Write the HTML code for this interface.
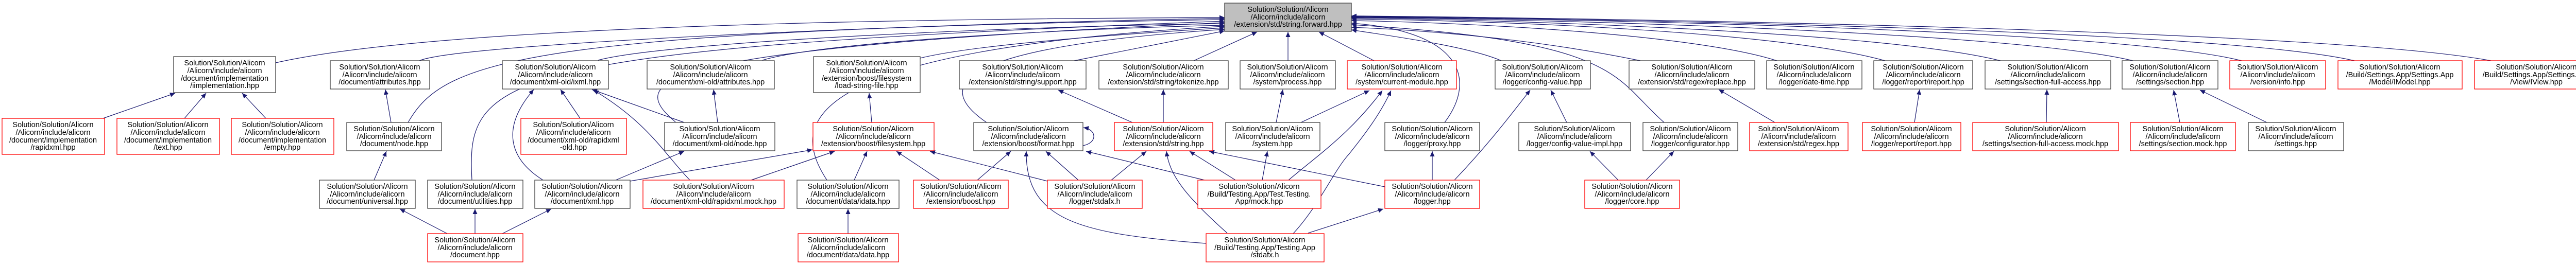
<!DOCTYPE html>
<html><head><meta charset="utf-8"><style>
html,body{margin:0;padding:0;background:#fff;}
svg{display:block;}
text{font-family:"Liberation Sans",sans-serif;font-size:14.5px;fill:#000;text-anchor:middle;}
.b{fill:#fff;stroke:#404040;stroke-width:1.3;}
.r{fill:#fff;stroke:#ff0000;stroke-width:1.3;}
.g{fill:#bfbfbf;stroke:#404040;stroke-width:1.3;}
path.e{fill:none;stroke:#191970;stroke-width:1.2;marker-end:url(#a);}
</style></head><body>
<svg width="5045" height="515" viewBox="0 0 5045 515" xmlns="http://www.w3.org/2000/svg">
<defs><marker id="a" markerWidth="11" markerHeight="9" refX="10" refY="4.5" orient="auto" markerUnits="userSpaceOnUse"><path d="M0,0 L10,4.5 L0,9 z" fill="#191970"/></marker></defs>

<!-- edges to root (left side) -->
<path class="e" d="M535,122 C900,40 2000,36 2377,34"/>
<path class="e" d="M814,118 C900,80 2000,40 2377,36"/>
<path class="e" d="M792,238 C860,120 1000,60 2377,38"/>
<path class="e" d="M916,350 C905,150 950,95 2377,41"/>
<path class="e" d="M1311,237 C1220,160 1230,95 2377,44"/>
<path class="e" d="M1161,117 C1300,80 2000,50 2377,46"/>
<path class="e" d="M1480,117 C1600,80 2100,55 2377,49"/>
<path class="e" d="M1605,350 C1540,250 1520,100 2377,51"/>
<path class="e" d="M1786,113 C1900,85 2200,65 2377,54"/>
<path class="e" d="M1915,238 C1830,180 1800,95 2377,57"/>
<path class="e" d="M2085,118 L2377,60"/>
<path class="e" d="M2317,118 L2440,62"/>
<path class="e" d="M2500,118 L2500,62"/>
<path class="e" d="M2667,118 L2560,62"/>
<!-- edges to root (right side) -->
<path class="e" d="M2804,238 C2870,150 2830,60 2623,45"/>
<path class="e" d="M2914,118 C2850,90 2700,70 2623,58"/>
<path class="e" d="M3230,238 C3130,150 3150,80 2623,48"/>
<path class="e" d="M3184,118 C3000,80 2800,60 2623,53"/>
<path class="e" d="M3449,118 C3300,70 2900,45 2623,40"/>
<path class="e" d="M3659,118 C3450,60 2900,40 2623,37"/>
<path class="e" d="M3883,118 C3650,60 2900,38 2623,35"/>
<path class="e" d="M4140,118 C3900,60 2950,36 2623,34"/>
<path class="e" d="M4351,118 C4100,55 3000,36 2623,33"/>
<path class="e" d="M4570,118 C4300,55 3000,35 2623,32"/>
<path class="e" d="M4835,118 C4500,55 3000,34 2623,31"/>

<!-- inner edges -->
<path class="e" d="M200,230 L340,181"/>
<path class="e" d="M358,230 L400,181"/>
<path class="e" d="M516,230 L470,181"/>
<path class="e" d="M759,238 L748,174"/>
<path class="e" d="M726,350 L750,294"/>
<path class="e" d="M868,454 L776,406"/>
<path class="e" d="M922,454 L922,406"/>
<path class="e" d="M975,454 L1070,406"/>
<path class="e" d="M1054,350 C990,310 970,250 1036,174"/>
<path class="e" d="M1195,350 L1328,294"/>
<path class="e" d="M1223,352 L1577,291"/>
<path class="e" d="M1126,230 L1088,174"/>
<path class="e" d="M1328,238 L1149,174"/>
<path class="e" d="M1393,238 L1385,174"/>
<path class="e" d="M1339,350 C1290,300 1260,240 1152,175"/>
<path class="e" d="M1458,350 L1620,294"/>
<path class="e" d="M1658,350 L1683,294"/>
<path class="e" d="M1646,454 L1646,406"/>
<path class="e" d="M1692,238 L1687,181"/>
<path class="e" d="M1824,350 L1740,294"/>
<path class="e" d="M1897,350 L1962,294"/>
<path class="e" d="M2033,352 L1805,294"/>
<path class="e" d="M2093,350 L2030,294"/>
<path class="e" d="M2157,350 L2225,294"/>
<path class="e" d="M2341,473 C2100,455 1990,430 1992,294"/>
<path class="e" d="M2382,453 C2300,380 2270,340 2264,294"/>
<path class="e" d="M2510,454 C2560,400 2590,330 2618,300 C2650,260 2680,220 2700,176"/>
<path class="e" d="M2539,453 L2685,406"/>
<path class="e" d="M2338,350 L2108,294"/>
<path class="e" d="M2398,350 L2309,294"/>
<path class="e" d="M2450,350 L2460,294"/>
<path class="e" d="M2501,350 C2560,300 2620,260 2683,176"/>
<path class="e" d="M2688,363 L2347,294"/>
<path class="e" d="M2525,238 L2658,176"/>
<path class="e" d="M2477,238 L2490,174"/>
<path class="e" d="M2198,238 L2054,175"/>
<path class="e" d="M2258,238 L2258,174"/>
<path class="e" d="M2102,283 C2130,278 2130,252 2103,248"/>
<path class="e" d="M2780,350 L2780,294"/>
<path class="e" d="M2823,350 C2880,290 2920,240 2970,175"/>
<path class="e" d="M3041,238 L3010,175"/>
<path class="e" d="M3141,350 L3086,294"/>
<path class="e" d="M3195,350 L3249,294"/>
<path class="e" d="M3445,238 L3336,174"/>
<path class="e" d="M3716,238 L3726,174"/>
<path class="e" d="M3972,238 L3973,174"/>
<path class="e" d="M4231,238 L4219,175"/>
<path class="e" d="M4400,238 L4270,175"/>

<!-- nodes -->
<rect class="g" x="2377" y="6" width="246" height="55"/><text x="2500" y="23">Solution/Solution/Alicorn</text><text x="2500" y="38">/Alicorn/include/alicorn</text><text x="2500" y="52">/extension/std/string.forward.hpp</text>

<rect class="b" x="337" y="110" width="198" height="70"/><text x="436" y="127">Solution/Solution/Alicorn</text><text x="436" y="142">/Alicorn/include/alicorn</text><text x="436" y="157">/document/implementation</text><text x="436" y="171">/iimplementation.hpp</text>
<rect class="b" x="641" y="118" width="193" height="55"/><text x="737" y="135">Solution/Solution/Alicorn</text><text x="737" y="150">/Alicorn/include/alicorn</text><text x="737" y="164">/document/attributes.hpp</text>
<rect class="r" x="4" y="230" width="199" height="70"/><text x="103" y="247">Solution/Solution/Alicorn</text><text x="103" y="262">/Alicorn/include/alicorn</text><text x="103" y="277">/document/implementation</text><text x="103" y="291">/rapidxml.hpp</text>
<rect class="r" x="227" y="230" width="199" height="70"/><text x="326" y="247">Solution/Solution/Alicorn</text><text x="326" y="262">/Alicorn/include/alicorn</text><text x="326" y="277">/document/implementation</text><text x="326" y="291">/text.hpp</text>
<rect class="r" x="449" y="230" width="199" height="70"/><text x="548" y="247">Solution/Solution/Alicorn</text><text x="548" y="262">/Alicorn/include/alicorn</text><text x="548" y="277">/document/implementation</text><text x="548" y="291">/empty.hpp</text>
<rect class="b" x="673" y="238" width="184" height="55"/><text x="765" y="255">Solution/Solution/Alicorn</text><text x="765" y="270">/Alicorn/include/alicorn</text><text x="765" y="284">/document/node.hpp</text>
<rect class="b" x="620" y="350" width="186" height="55"/><text x="713" y="367">Solution/Solution/Alicorn</text><text x="713" y="382">/Alicorn/include/alicorn</text><text x="713" y="396">/document/universal.hpp</text>
<rect class="b" x="830" y="350" width="185" height="55"/><text x="922" y="367">Solution/Solution/Alicorn</text><text x="922" y="382">/Alicorn/include/alicorn</text><text x="922" y="396">/document/utilities.hpp</text>
<rect class="r" x="830" y="454" width="185" height="55"/><text x="922" y="471">Solution/Solution/Alicorn</text><text x="922" y="486">/Alicorn/include/alicorn</text><text x="922" y="500">/document.hpp</text>

<rect class="b" x="975" y="118" width="206" height="55"/><text x="1078" y="135">Solution/Solution/Alicorn</text><text x="1078" y="150">/Alicorn/include/alicorn</text><text x="1078" y="164">/document/xml-old/ixml.hpp</text>
<rect class="b" x="1256" y="118" width="247" height="55"/><text x="1379" y="135">Solution/Solution/Alicorn</text><text x="1379" y="150">/Alicorn/include/alicorn</text><text x="1379" y="164">/document/xml-old/attributes.hpp</text>
<rect class="b" x="1579" y="110" width="207" height="70"/><text x="1682" y="127">Solution/Solution/Alicorn</text><text x="1682" y="142">/Alicorn/include/alicorn</text><text x="1682" y="157">/extension/boost/filesystem</text><text x="1682" y="171">/load-string-file.hpp</text>
<rect class="r" x="1011" y="230" width="205" height="70"/><text x="1113" y="247">Solution/Solution/Alicorn</text><text x="1113" y="262">/Alicorn/include/alicorn</text><text x="1113" y="277">/document/xml-old/rapidxml</text><text x="1113" y="291">-old.hpp</text>
<rect class="b" x="1290" y="238" width="214" height="55"/><text x="1397" y="255">Solution/Solution/Alicorn</text><text x="1397" y="270">/Alicorn/include/alicorn</text><text x="1397" y="284">/document/xml-old/node.hpp</text>
<rect class="r" x="1578" y="238" width="235" height="55"/><text x="1695" y="255">Solution/Solution/Alicorn</text><text x="1695" y="270">/Alicorn/include/alicorn</text><text x="1695" y="284">/extension/boost/filesystem.hpp</text>
<rect class="b" x="1038" y="350" width="185" height="55"/><text x="1130" y="367">Solution/Solution/Alicorn</text><text x="1130" y="382">/Alicorn/include/alicorn</text><text x="1130" y="396">/document/xml.hpp</text>
<rect class="r" x="1248" y="350" width="274" height="55"/><text x="1385" y="367">Solution/Solution/Alicorn</text><text x="1385" y="382">/Alicorn/include/alicorn</text><text x="1385" y="396">/document/xml-old/rapidxml.mock.hpp</text>
<rect class="b" x="1547" y="350" width="198" height="55"/><text x="1646" y="367">Solution/Solution/Alicorn</text><text x="1646" y="382">/Alicorn/include/alicorn</text><text x="1646" y="396">/document/data/idata.hpp</text>
<rect class="r" x="1549" y="454" width="195" height="55"/><text x="1646" y="471">Solution/Solution/Alicorn</text><text x="1646" y="486">/Alicorn/include/alicorn</text><text x="1646" y="500">/document/data/data.hpp</text>

<rect class="b" x="1862" y="118" width="246" height="55"/><text x="1985" y="135">Solution/Solution/Alicorn</text><text x="1985" y="150">/Alicorn/include/alicorn</text><text x="1985" y="164">/extension/std/string/support.hpp</text>
<rect class="b" x="2133" y="118" width="251" height="55"/><text x="2258" y="135">Solution/Solution/Alicorn</text><text x="2258" y="150">/Alicorn/include/alicorn</text><text x="2258" y="164">/extension/std/string/tokenize.hpp</text>
<rect class="b" x="2407" y="118" width="185" height="55"/><text x="2499" y="135">Solution/Solution/Alicorn</text><text x="2499" y="150">/Alicorn/include/alicorn</text><text x="2499" y="164">/system/process.hpp</text>
<rect class="b" x="1890" y="238" width="212" height="55"/><text x="1996" y="255">Solution/Solution/Alicorn</text><text x="1996" y="270">/Alicorn/include/alicorn</text><text x="1996" y="284">/extension/boost/format.hpp</text>
<rect class="r" x="2163" y="238" width="191" height="55"/><text x="2258" y="255">Solution/Solution/Alicorn</text><text x="2258" y="270">/Alicorn/include/alicorn</text><text x="2258" y="284">/extension/std/string.hpp</text>
<rect class="b" x="2379" y="238" width="183" height="55"/><text x="2470" y="255">Solution/Solution/Alicorn</text><text x="2470" y="270">/Alicorn/include/alicorn</text><text x="2470" y="284">/system.hpp</text>
<rect class="r" x="1773" y="350" width="184" height="55"/><text x="1865" y="367">Solution/Solution/Alicorn</text><text x="1865" y="382">/Alicorn/include/alicorn</text><text x="1865" y="396">/extension/boost.hpp</text>
<rect class="r" x="2033" y="350" width="184" height="55"/><text x="2125" y="367">Solution/Solution/Alicorn</text><text x="2125" y="382">/Alicorn/include/alicorn</text><text x="2125" y="396">/logger/stdafx.h</text>
<rect class="r" x="2325" y="350" width="239" height="55"/><text x="2444" y="367">Solution/Solution/Alicorn</text><text x="2444" y="382">/Build/Testing.App/Test.Testing.</text><text x="2444" y="396">App/mock.hpp</text>
<rect class="r" x="2341" y="454" width="229" height="55"/><text x="2455" y="471">Solution/Solution/Alicorn</text><text x="2455" y="486">/Build/Testing.App/Testing.App</text><text x="2455" y="500">/stdafx.h</text>

<rect class="r" x="2615" y="118" width="212" height="55"/><text x="2721" y="135">Solution/Solution/Alicorn</text><text x="2721" y="150">/Alicorn/include/alicorn</text><text x="2721" y="164">/system/current-module.hpp</text>
<rect class="b" x="2902" y="118" width="185" height="55"/><text x="2994" y="135">Solution/Solution/Alicorn</text><text x="2994" y="150">/Alicorn/include/alicorn</text><text x="2994" y="164">/logger/config-value.hpp</text>
<rect class="b" x="3162" y="118" width="244" height="55"/><text x="3284" y="135">Solution/Solution/Alicorn</text><text x="3284" y="150">/Alicorn/include/alicorn</text><text x="3284" y="164">/extension/std/regex/replace.hpp</text>
<rect class="b" x="2688" y="238" width="184" height="55"/><text x="2780" y="255">Solution/Solution/Alicorn</text><text x="2780" y="270">/Alicorn/include/alicorn</text><text x="2780" y="284">/logger/proxy.hpp</text>
<rect class="b" x="2948" y="238" width="217" height="55"/><text x="3056" y="255">Solution/Solution/Alicorn</text><text x="3056" y="270">/Alicorn/include/alicorn</text><text x="3056" y="284">/logger/config-value-impl.hpp</text>
<rect class="b" x="3189" y="238" width="184" height="55"/><text x="3281" y="255">Solution/Solution/Alicorn</text><text x="3281" y="270">/Alicorn/include/alicorn</text><text x="3281" y="284">/logger/configurator.hpp</text>
<rect class="r" x="2688" y="350" width="184" height="55"/><text x="2780" y="367">Solution/Solution/Alicorn</text><text x="2780" y="382">/Alicorn/include/alicorn</text><text x="2780" y="396">/logger.hpp</text>
<rect class="r" x="3076" y="350" width="184" height="55"/><text x="3168" y="367">Solution/Solution/Alicorn</text><text x="3168" y="382">/Alicorn/include/alicorn</text><text x="3168" y="396">/logger/core.hpp</text>

<rect class="b" x="3429" y="118" width="185" height="55"/><text x="3521" y="135">Solution/Solution/Alicorn</text><text x="3521" y="150">/Alicorn/include/alicorn</text><text x="3521" y="164">/logger/date-time.hpp</text>
<rect class="b" x="3637" y="118" width="192" height="55"/><text x="3733" y="135">Solution/Solution/Alicorn</text><text x="3733" y="150">/Alicorn/include/alicorn</text><text x="3733" y="164">/logger/report/ireport.hpp</text>
<rect class="b" x="3853" y="118" width="244" height="55"/><text x="3975" y="135">Solution/Solution/Alicorn</text><text x="3975" y="150">/Alicorn/include/alicorn</text><text x="3975" y="164">/settings/section-full-access.hpp</text>
<rect class="b" x="4119" y="118" width="186" height="55"/><text x="4212" y="135">Solution/Solution/Alicorn</text><text x="4212" y="150">/Alicorn/include/alicorn</text><text x="4212" y="164">/settings/section.hpp</text>
<rect class="r" x="3396" y="238" width="191" height="55"/><text x="3491" y="255">Solution/Solution/Alicorn</text><text x="3491" y="270">/Alicorn/include/alicorn</text><text x="3491" y="284">/extension/std/regex.hpp</text>
<rect class="r" x="3615" y="238" width="191" height="55"/><text x="3710" y="255">Solution/Solution/Alicorn</text><text x="3710" y="270">/Alicorn/include/alicorn</text><text x="3710" y="284">/logger/report/report.hpp</text>
<rect class="r" x="3829" y="238" width="283" height="55"/><text x="3970" y="255">Solution/Solution/Alicorn</text><text x="3970" y="270">/Alicorn/include/alicorn</text><text x="3970" y="284">/settings/section-full-access.mock.hpp</text>
<rect class="r" x="4135" y="238" width="204" height="55"/><text x="4237" y="255">Solution/Solution/Alicorn</text><text x="4237" y="270">/Alicorn/include/alicorn</text><text x="4237" y="284">/settings/section.mock.hpp</text>

<rect class="r" x="4328" y="118" width="186" height="55"/><text x="4421" y="135">Solution/Solution/Alicorn</text><text x="4421" y="150">/Alicorn/include/alicorn</text><text x="4421" y="164">/version/info.hpp</text>
<rect class="r" x="4538" y="118" width="241" height="55"/><text x="4658" y="135">Solution/Solution/Alicorn</text><text x="4658" y="150">/Build/Settings.App/Settings.App</text><text x="4658" y="164">/Model/IModel.hpp</text>
<rect class="r" x="4803" y="118" width="240" height="55"/><text x="4923" y="135">Solution/Solution/Alicorn</text><text x="4923" y="150">/Build/Settings.App/Settings.App</text><text x="4923" y="164">/View/IView.hpp</text>
<rect class="b" x="4364" y="238" width="185" height="55"/><text x="4456" y="255">Solution/Solution/Alicorn</text><text x="4456" y="270">/Alicorn/include/alicorn</text><text x="4456" y="284">/settings.hpp</text>
</svg>
</body></html>
